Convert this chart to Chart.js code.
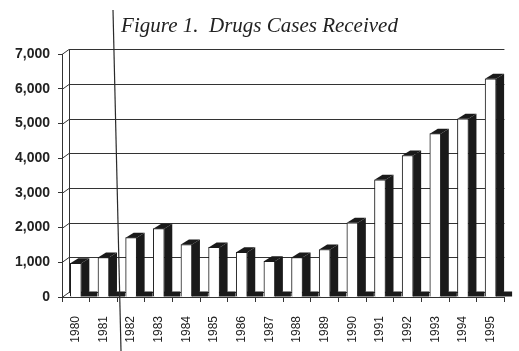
<!DOCTYPE html>
<html lang="en">
<head>
    <meta charset="UTF-8">
    <script src="https://cdn.jsdelivr.net/npm/chart.js"></script>
    <title>Drugs Cases Received</title>
</head>
<style>
    body { margin: 0; background: #fff; }
    #wrap { width: 519px; height: 351px; }
</style>
<body>
    <div id="wrap"><canvas id="drugChart" width="519" height="351"></canvas></div>
    <script>
        // data
        var years = ['1980', '1981', '1982', '1983', '1984', '1985', '1986', '1987',
                     '1988', '1989', '1990', '1991', '1992', '1993', '1994', '1995'];
        var cases = [970, 1140, 1710, 1970, 1510, 1430, 1290, 1030,
                     1140, 1370, 2140, 3380, 4080, 4710, 5140, 6290];
        var yTicks = [0, 1000, 2000, 3000, 4000, 5000, 6000, 7000];

        var DX = 8, DY = 5;     // depth of the fake 3d bars
        var WX = 7, WY = 5;     // depth of the back wall
        var ink = '#1a1a1a';

        var fake3d = {
            id: 'fake3d',
            beforeDatasetsDraw: function (chart) {
                var ctx = chart.ctx, a = chart.chartArea, ys = chart.scales.y;
                ctx.save();
                ctx.strokeStyle = '#333';
                ctx.lineWidth = 1;
                // back wall edge
                ctx.beginPath();
                ctx.moveTo(a.left + WX + 0.5, ys.getPixelForValue(7000) - WY);
                ctx.lineTo(a.left + WX + 0.5, a.bottom - WY);
                ctx.stroke();
                yTicks.forEach(function (t) {
                    var y = Math.round(ys.getPixelForValue(t)) + 0.5;
                    ctx.beginPath();
                    ctx.moveTo(a.left, y);
                    ctx.lineTo(a.left + WX, y - WY);
                    ctx.lineTo(a.right, y - WY);
                    ctx.stroke();
                });
                ctx.restore();
            },
            afterDatasetsDraw: function (chart) {
                var ctx = chart.ctx;
                var bars = chart.getDatasetMeta(0).data;
                ctx.save();
                ctx.fillStyle = ink;
                bars.forEach(function (b) {
                    var p = b.getProps(['x', 'y', 'base', 'width'], true);
                    var x0 = p.x - p.width / 2, x1 = p.x + p.width / 2;
                    // top face
                    ctx.beginPath();
                    ctx.moveTo(x0, p.y);
                    ctx.lineTo(x0 + DX, p.y - DY);
                    ctx.lineTo(x1 + DX, p.y - DY);
                    ctx.lineTo(x1, p.y);
                    ctx.closePath();
                    ctx.fill();
                    // side face
                    ctx.beginPath();
                    ctx.moveTo(x1, p.y);
                    ctx.lineTo(x1 + DX, p.y - DY);
                    ctx.lineTo(x1 + DX, p.base - DY);
                    ctx.lineTo(x1, p.base);
                    ctx.closePath();
                    ctx.fill();
                    // shadow on the floor
                    ctx.fillRect(x1, p.base - 5, DX + 8, 5);
                });
                ctx.restore();
            },
            afterDraw: function (chart) {
                // fold line in the scan
                var ctx = chart.ctx;
                ctx.save();
                ctx.strokeStyle = '#2a2a2a';
                ctx.lineWidth = 1.2;
                ctx.beginPath();
                ctx.moveTo(113, 10);
                ctx.lineTo(121, 351);
                ctx.stroke();
                ctx.restore();
            }
        };

        var ctx = document.getElementById('drugChart').getContext('2d');
        new Chart(ctx, {
            type: 'bar',
            data: {
                labels: years,
                datasets: [{
                    label: 'Drugs cases',
                    data: cases,
                    backgroundColor: '#ffffff',
                    borderColor: ink,
                    borderWidth: 1,
                    barThickness: 11
                }]
            },
            options: {
                responsive: false,
                animation: false,
                layout: { padding: { left: 0, right: 0, top: 0, bottom: 0 } },
                plugins: {
                    legend: { display: false },
                    tooltip: { enabled: false },
                    title: {
                        display: true,
                        text: 'Figure 1.  Drugs Cases Received',
                        color: '#222',
                        font: { family: 'Liberation Serif', style: 'italic', size: 21, weight: 'normal' },
                        padding: { top: 14, bottom: 15 }
                    }
                },
                scales: {
                    x: {
                        grid: { drawOnChartArea: false, tickLength: 5, color: '#333' },
                        border: { color: '#333' },
                        ticks: {
                            minRotation: 90, maxRotation: 90, padding: 14,
                            color: '#222',
                            font: { family: 'Liberation Sans', size: 12 }
                        },
                        afterFit: function (s) { s.height = 54; }
                    },
                    y: {
                        min: 0, max: 7000,
                        grid: { drawOnChartArea: false, tickLength: 4, color: '#333' },
                        border: { color: '#333' },
                        ticks: {
                            stepSize: 1000, padding: 8, color: '#222',
                            font: { family: 'Liberation Sans', size: 14, weight: 'bold' },
                            callback: function (v) { return v.toLocaleString('en-US'); }
                        },
                        afterFit: function (s) { s.width = 62; }
                    }
                }
            },
            plugins: [fake3d]
        });
    </script>
</body>
</html>
